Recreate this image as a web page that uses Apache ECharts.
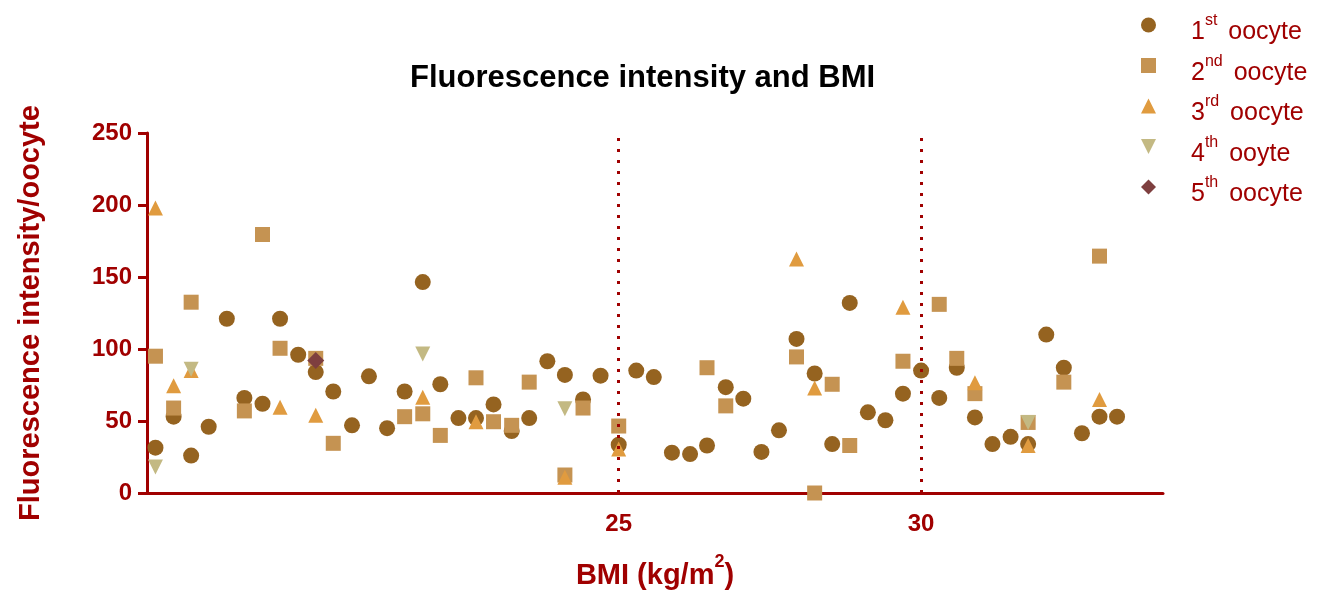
<!DOCTYPE html>
<html><head><meta charset="utf-8">
<script src="https://cdn.jsdelivr.net/npm/echarts@6/dist/echarts.min.js"></script>
<style>html,body{margin:0;padding:0;background:#fff}#c{width:1337px;height:594px}</style>
</head><body><div id="c"></div>
<script>
// BMI of each patient (x position)
const bmi = [17.34,17.64,17.93,18.22,18.52,18.81,19.11,19.40,19.70,19.99,
             20.28,20.59,20.87,21.17,21.46,21.76,22.05,22.35,22.64,22.93,
             23.23,23.52,23.82,24.11,24.41,24.70,25.00,25.29,25.58,25.88,
             26.18,26.46,26.77,27.06,27.36,27.65,27.94,28.24,28.53,28.82,
             29.12,29.41,29.70,30.00,30.30,30.59,30.89,31.18,31.48,31.77,
             32.07,32.36,32.66,32.95,33.24];
const oocyte1 = [31.5,53,26,46,121,66,62,121,96,84,
                 70.5,47,81,45,70.5,146.5,75.5,52,52,61.5,
                 43,52,91.5,82,65,81.5,33.5,85,80.5,28,
                 27,33,73.5,65.5,28.5,43.5,107,83,34,132,
                 56,50.5,69,85,66,87,52.5,34,39,34,
                 110,87,41.5,53,53];
const oocyte2 = [95,59,132.5,null,null,57,179.5,100.5,null,93.5,
                 34.5,null,null,null,53,55,40,null,80,49.5,
                 47,77,null,12.5,59,null,46.5,null,null,null,
                 null,87,60.5,null,null,null,94.5,0,75.5,33,
                 null,null,91.5,null,131,93.5,69,null,null,49,
                 null,77,null,164.5,null];
const oocyte3 = [198,74.5,85,null,null,null,null,59.5,null,54,
                 null,null,null,null,null,66.5,null,null,49.5,null,
                 null,null,null,11,null,null,30.5,null,null,null,
                 null,null,null,null,null,null,162.5,73,null,null,
                 null,null,129,null,null,null,76.5,null,null,33,
                 null,null,null,65,null];
const oocyte4 = [18,null,86,null,null,null,null,null,null,null,
                 null,null,null,null,null,96.5,null,null,null,null,
                 null,null,null,58.5,null,null,null,null,null,null,
                 null,null,null,null,null,null,null,null,null,null,
                 null,null,null,null,null,null,null,null,null,49,
                 null,null,null,null,null];
const oocyte5 = [null,null,null,null,null,null,null,null,null,92,
                 null,null,null,null,null,null,null,null,null,null,
                 null,null,null,null,null,null,null,null,null,null,
                 null,null,null,null,null,null,null,null,null,null,
                 null,null,null,null,null,null,null,null,null,null,
                 null,null,null,null,null];
const seriesNames = ['1st oocyte','2nd oocyte','3rd oocyte','4th ooyte','5th oocyte'];
const xTickLabels = [25, 30];
const refLines = [25, 30];
const yTicks = {min: 0, max: 250, interval: 50};

const RED = '#A00000';
const FONT = '"Liberation Sans", Arial, Helvetica, sans-serif';
function pts(vals){ const out=[]; vals.forEach((v,i)=>{ if(v!==null) out.push([bmi[i], v]); }); return out; }

const chart = echarts.init(document.getElementById('c'));
const sets = [
  {data: oocyte1, symbol: 'circle', size: 16, color: '#956320'},
  {data: oocyte2, symbol: 'rect', size: 15, color: '#C59352'},
  {data: oocyte3, symbol: 'triangle', size: 15, color: '#E09B3F'},
  {data: oocyte4, symbol: 'path://M0,0L10,0L5,10Z', size: 15, color: '#C3B983'},
  {data: oocyte5, symbol: 'diamond', size: 17, color: '#7E3F3F'}
];
const series = [{
  type: 'scatter', name: 'ref', data: [], z: 1, silent: true,
  markLine: {
    silent: true, symbol: ['none','none'], animation: false,
    label: {show: false},
    lineStyle: {type: [3, 8], width: 3, color: RED},
    data: refLines.map(x => [{coord: [x, yTicks.min]}, {coord: [x, yTicks.max]}])
  }
}];
sets.forEach((s, i) => series.push({
  type: 'scatter', name: seriesNames[i], data: pts(s.data), z: 2 + i,
  symbol: s.symbol, symbolSize: s.size,
  itemStyle: {color: s.color, opacity: 1}
}));

const option = {
  animation: false,
  backgroundColor: '#ffffff',
  textStyle: {fontFamily: FONT},
  title: {
    text: 'Fluorescence intensity and BMI',
    left: 405, top: 58,
    textStyle: {fontFamily: FONT, fontSize: 31, fontWeight: 'bold', color: '#000'}
  },
  legend: {
    orient: 'vertical', left: 1136, top: 0,
    itemWidth: 15, itemHeight: 15, itemGap: 0.5,
    data: seriesNames,
    formatter: function (name) {
      const m = name.match(/^(\d)(st|nd|rd|th) (.*)$/);
      return '{f|' + m[1] + '}{s|' + m[2] + '}{n| ' + m[3] + '}{h|\u200b}';
    },
    textStyle: {
      fontFamily: FONT, color: RED,
      rich: {
        f: {fontFamily: FONT, fontSize: 25, color: RED, lineHeight: 25, padding: [0,0,0,30], verticalAlign: 'bottom'},
        s: {fontFamily: FONT, fontSize: 16, color: RED, lineHeight: 16, padding: [8,0,0,0], verticalAlign: 'top'},
        n: {fontFamily: FONT, fontSize: 25, color: RED, lineHeight: 25, padding: [0,0,0,4], verticalAlign: 'bottom'},
        h: {fontFamily: FONT, fontSize: 10, color: RED, lineHeight: 40, verticalAlign: 'bottom'}
      }
    }
  },
  grid: {left: 147, right: 174, top: 133, bottom: 101, outerBoundsMode: 'none'},
  xAxis: {
    type: 'value', min: 17.2, max: 34,
    name: '{b|BMI (kg/m}{s|2}{b|)}{h|\u200b}',
    nameLocation: 'middle', nameGap: 60,
    nameTextStyle: {
      rich: {
        b: {fontFamily: FONT, fontSize: 29, fontWeight: 'bold', color: RED, lineHeight: 29, verticalAlign: 'bottom'},
        s: {fontFamily: FONT, fontSize: 18, fontWeight: 'bold', color: RED, lineHeight: 18, verticalAlign: 'top'},
        h: {fontFamily: FONT, fontSize: 10, color: RED, lineHeight: 37, verticalAlign: 'bottom'}
      }
    },
    axisLine: {show: true, onZero: true, lineStyle: {color: RED, width: 3}},
    axisTick: {show: false},
    splitLine: {show: false},
    axisLabel: {customValues: xTickLabels, fontFamily: FONT, fontSize: 24, fontWeight: 'bold', color: RED, margin: 19}
  },
  yAxis: {
    type: 'value', min: yTicks.min, max: yTicks.max, interval: yTicks.interval,
    name: 'Fluorescence intensity/oocyte',
    nameLocation: 'middle', nameRotate: 90, nameGap: 102,
    nameTextStyle: {fontFamily: FONT, fontSize: 29, fontWeight: 'bold', color: RED},
    axisLine: {show: true, lineStyle: {color: RED, width: 3}},
    axisTick: {show: true, length: 9, lineStyle: {color: RED, width: 3}},
    splitLine: {show: false},
    axisLabel: {fontFamily: FONT, fontSize: 24, fontWeight: 'bold', color: RED, margin: 15}
  },
  series: series
};
chart.setOption(option);
</script>
</body></html>
